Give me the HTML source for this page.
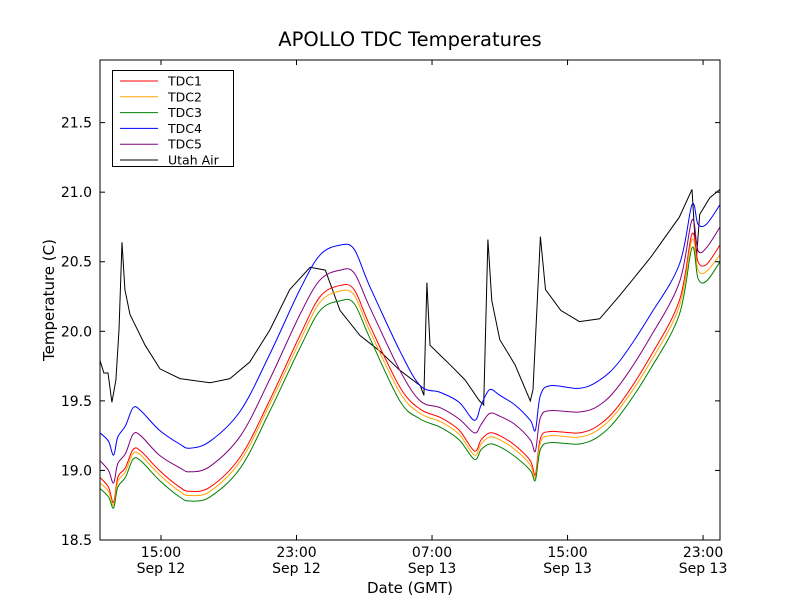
<!DOCTYPE html>
<html><head><meta charset="utf-8"><style>
body{margin:0;background:#fff;}
svg text{font-family:"DejaVu Sans","Liberation Sans",sans-serif;}
</style></head><body>
<svg id="chart" width="800" height="600" xmlns="http://www.w3.org/2000/svg">
<rect width="800" height="600" fill="#fff"/>
<text x="410" y="46" font-size="19.5" text-anchor="middle">APOLLO TDC Temperatures</text>
<text x="410" y="593" font-size="15" text-anchor="middle">Date (GMT)</text>
<text transform="translate(54,300) rotate(-90)" font-size="15" text-anchor="middle">Temperature (C)</text>
<g id="plot"></g>
</svg>
<script>
const xTickHours=[15,23,31,39,47];
const xTickTimes=["15:00","23:00","07:00","15:00","23:00"];
const xTickDates=["Sep 12","Sep 12","Sep 13","Sep 13","Sep 13"];
const yTicks=[18.5,19.0,19.5,20.0,20.5,21.0,21.5];
const seriesNames=["TDC1","TDC2","TDC3","TDC4","TDC5","Utah Air"];
const tdcHours=[11.4,11.9,12.2,12.45,12.9,13.35,13.8,14.9,16.1,16.7,17.9,19.7,21.4,23.2,24.4,25.6,26.4,27.3,29.1,30.3,31.5,32.6,33.5,33.9,34.4,35.0,35.9,36.8,37.1,37.4,38.0,39.7,40.9,42.1,43.9,45.6,46.35,46.7,47.2,48.0];
const tdc1=[18.95,18.88,18.77,18.95,19.02,19.15,19.14,19.0,18.88,18.85,18.88,19.1,19.5,19.97,20.25,20.33,20.30,20.05,19.6,19.44,19.38,19.29,19.14,19.22,19.27,19.25,19.18,19.07,18.97,19.23,19.28,19.27,19.33,19.48,19.82,20.22,20.70,20.50,20.48,20.62];
const tdc2=[18.91,18.85,18.75,18.92,18.99,19.12,19.11,18.97,18.85,18.82,18.85,19.07,19.47,19.93,20.21,20.29,20.26,20.01,19.56,19.41,19.35,19.26,19.11,19.19,19.24,19.22,19.15,19.04,18.95,19.2,19.25,19.24,19.30,19.45,19.78,20.18,20.66,20.44,20.43,20.55];
const tdc3=[18.87,18.81,18.73,18.88,18.95,19.08,19.07,18.93,18.81,18.78,18.81,19.02,19.42,19.88,20.15,20.22,20.2,19.96,19.5,19.37,19.31,19.22,19.08,19.15,19.19,19.17,19.1,19.0,18.93,19.15,19.2,19.19,19.25,19.4,19.73,20.12,20.6,20.38,20.36,20.5];
const tdc4=[19.27,19.21,19.11,19.24,19.32,19.45,19.43,19.29,19.19,19.16,19.21,19.43,19.83,20.30,20.55,20.62,20.59,20.33,19.86,19.61,19.56,19.49,19.36,19.47,19.58,19.54,19.47,19.36,19.29,19.54,19.61,19.59,19.65,19.79,20.12,20.48,20.91,20.77,20.77,20.91];
const tdc5=[19.07,19.0,18.91,19.05,19.12,19.26,19.25,19.11,19.02,18.99,19.03,19.25,19.65,20.12,20.37,20.44,20.42,20.18,19.72,19.50,19.45,19.37,19.27,19.33,19.41,19.39,19.33,19.22,19.14,19.38,19.43,19.42,19.47,19.62,19.96,20.35,20.80,20.58,20.60,20.75];
const airHours=[11.4,11.63,11.87,12.1,12.34,12.52,12.7,12.87,13.17,14.06,14.94,16.12,17.9,19.07,20.25,21.43,22.6,23.8,24.7,25.57,26.75,27.9,29.1,30.3,30.52,30.7,30.88,31.47,32.06,32.95,33.8,34.05,34.3,34.53,35.0,35.9,36.8,36.96,37.4,37.7,38.6,39.7,40.9,42.1,43.9,45.6,46.35,46.6,46.8,47.4,48.0];
const airTemp=[19.79,19.70,19.70,19.49,19.65,20.01,20.64,20.30,20.12,19.90,19.73,19.66,19.63,19.66,19.78,20.01,20.30,20.46,20.44,20.15,19.97,19.86,19.72,19.61,19.54,20.35,19.90,19.83,19.76,19.65,19.50,19.47,20.66,20.22,19.94,19.76,19.50,19.58,20.68,20.30,20.15,20.07,20.09,20.26,20.53,20.82,21.02,20.51,20.84,20.96,21.02];

const L=100,R=720,T=60,B=540;
const xMin=11.4,xMax=48.0,yMin=18.5,yMax=21.95;
const xs=h=>L+(h-xMin)/(xMax-xMin)*(R-L);
const ys=v=>B-(v-yMin)/(yMax-yMin)*(B-T);
const NS="http://www.w3.org/2000/svg";
const g=document.getElementById('plot');
function mk(tag,attrs){const e=document.createElementNS(NS,tag);for(const k in attrs)e.setAttribute(k,attrs[k]);g.appendChild(e);return e;}

function smoothPath(pts){
  let d='M'+pts[0][0].toFixed(1)+','+pts[0][1].toFixed(1);
  for(let i=0;i<pts.length-1;i++){
    const p0=pts[Math.max(0,i-1)],p1=pts[i],p2=pts[i+1],p3=pts[Math.min(pts.length-1,i+2)];
    const c1x=p1[0]+(p2[0]-p0[0])/6,c1y=p1[1]+(p2[1]-p0[1])/6;
    const c2x=p2[0]-(p3[0]-p1[0])/6,c2y=p2[1]-(p3[1]-p1[1])/6;
    d+='C'+c1x.toFixed(1)+','+c1y.toFixed(1)+' '+c2x.toFixed(1)+','+c2y.toFixed(1)+' '+p2[0].toFixed(1)+','+p2[1].toFixed(1);
  }
  return d;
}

const colors=["#ff0000","#ffa500","#008000","#0000ff","#800080","#000000"];
const data=[[tdcHours,tdc1],[tdcHours,tdc2],[tdcHours,tdc3],[tdcHours,tdc4],[tdcHours,tdc5],[airHours,airTemp]];
const order=[5,3,4,0,1,2];
order.forEach(i=>{
  const [hx,vy]=data[i];
  const pts=hx.map((h,j)=>[xs(h),ys(vy[j])]);
  const d=(i===5)?pts.map((p,j)=>(j?'L':'M')+p[0].toFixed(1)+','+p[1].toFixed(1)).join(''):smoothPath(pts);
  const p=mk('path',{d:d,fill:'none',stroke:colors[i],'stroke-width':1});
  
  
});

const frame=mk('rect',{x:L,y:T,width:R-L,height:B-T,fill:'none',stroke:'#000','stroke-width':1});



yTicks.forEach(v=>{
  const y=ys(v);
  mk('line',{x1:L,x2:L+5,y1:y,y2:y,stroke:'#000'});
  mk('line',{x1:R,x2:R-5,y1:y,y2:y,stroke:'#000'});
  const t=mk('text',{x:L-8,y:y+5,'font-size':14,'text-anchor':'end'});
  t.textContent=v.toFixed(1);
  
  
});
xTickHours.forEach((h,i)=>{
  const x=xs(h);
  mk('line',{x1:x,x2:x,y1:B,y2:B-5,stroke:'#000'});
  mk('line',{x1:x,x2:x,y1:T,y2:T+5,stroke:'#000'});
  const t=mk('text',{x:x,y:B+17,'font-size':14,'text-anchor':'middle'});
  t.textContent=xTickTimes[i];
  
  
  const t2=mk('text',{x:x,y:B+33,'font-size':14,'text-anchor':'middle'});
  t2.textContent=xTickDates[i];
  
  
});

const lg=mk('rect',{x:112.5,y:70.5,width:121,height:96,fill:'#fff',stroke:'#000'});


seriesNames.forEach((n,i)=>{
  const y=81+i*15.8;
  mk('line',{x1:120,x2:158,y1:y,y2:y,stroke:colors[i]});
  const t=mk('text',{x:168,y:y+4.5,'font-size':12.5});
  t.textContent=n;
  
  
});
</script>
</body></html>
